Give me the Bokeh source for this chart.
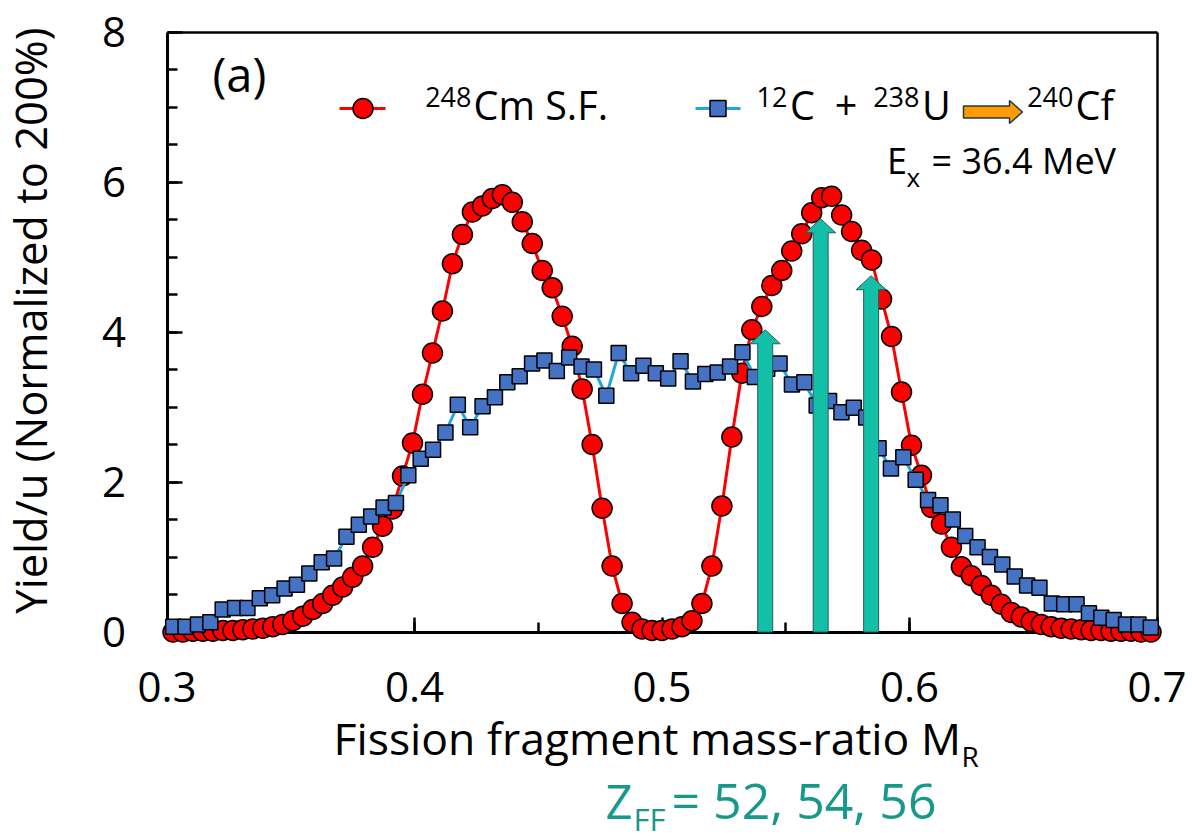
from math import pi

from bokeh.plotting import figure
from bokeh.models import Range1d, FixedTicker, LinearAxis, Label
from bokeh.embed import file_html
from bokeh.resources import INLINE

# ---------------------------------------------------------------- data
# 248Cm spontaneous fission: fragment mass number and yield per u (sum 200 %)
cm_mass_numbers = list(range(75, 174))
cm_yields = [
    0.00, 0.00, 0.01, 0.01, 0.01, 0.02, 0.02, 0.03, 0.04, 0.05,   # 75-84
    0.07, 0.10, 0.15, 0.21, 0.30, 0.38, 0.49, 0.60, 0.73, 0.88,   # 85-94
    1.13, 1.41, 1.64, 2.08, 2.52, 3.17, 3.72, 4.28, 4.91, 5.30,   # 95-104
    5.60, 5.68, 5.78, 5.83, 5.73, 5.47, 5.18, 4.82, 4.59, 4.21,   # 105-114
    3.81, 3.24, 2.50, 1.65, 0.88, 0.38, 0.13, 0.04, 0.02, 0.02,   # 115-124
    0.04, 0.07, 0.15, 0.38, 0.88, 1.68, 2.60, 3.45, 4.03, 4.34,   # 125-134
    4.62, 4.82, 5.08, 5.31, 5.59, 5.79, 5.81, 5.56, 5.34, 5.09,   # 135-144
    4.96, 4.44, 3.94, 3.20, 2.49, 2.09, 1.66, 1.44, 1.13, 0.87,   # 145-154
    0.75, 0.62, 0.49, 0.37, 0.26, 0.20, 0.14, 0.10, 0.07, 0.05,   # 155-164
    0.04, 0.03, 0.02, 0.02, 0.01, 0.01, 0.01, 0.00, 0.00,         # 165-173
]
cm_compound_mass = 248
cm_mass_ratio = [a / cm_compound_mass for a in cm_mass_numbers]

# 12C + 238U -> 240Cf, Ex = 36.4 MeV: mass-ratio bins of width 0.005
cf_mass_ratio = [round(0.3025 + 0.005 * k, 4) for k in range(80)]
cf_yields = [
    0.07, 0.07, 0.10, 0.13, 0.30, 0.32, 0.32, 0.45, 0.49, 0.58,
    0.63, 0.78, 0.93, 0.98, 1.27, 1.43, 1.54, 1.66, 1.72, 2.09,
    2.31, 2.43, 2.66, 3.03, 2.73, 3.01, 3.13, 3.33, 3.41, 3.58,
    3.62, 3.48, 3.66, 3.54, 3.50, 3.15, 3.72, 3.45, 3.55, 3.45,
    3.38, 3.61, 3.34, 3.44, 3.46, 3.54, 3.73, 3.40, 3.51, 3.58,
    3.30, 3.33, 3.02, 3.08, 2.93, 2.99, 2.86, 2.45, 2.18, 2.33,
    2.03, 1.76, 1.69, 1.50, 1.28, 1.13, 1.00, 0.90, 0.74, 0.62,
    0.59, 0.38, 0.37, 0.37, 0.25, 0.19, 0.16, 0.10, 0.10, 0.06,
]

# fragment charges Z_FF = 52, 54, 56 marked by arrows
zff_values = [52, 54, 56]
zff_mass_ratio = [0.5417, 0.5641, 0.5845]
zff_heights = [4.03, 5.51, 4.75]

x_ticks = [0.3, 0.4, 0.5, 0.6, 0.7]
x_minor_ticks = [0.3, 0.35, 0.4, 0.45, 0.5, 0.55, 0.6, 0.65, 0.7]
y_ticks = [0, 2, 4, 6, 8]
y_minor_ticks = [0, 0.5, 1, 1.5, 2, 2.5, 3, 3.5, 4, 4.5, 5, 5.5, 6, 6.5, 7, 7.5, 8]

# ---------------------------------------------------------------- geometry
# The drawing area spans the whole canvas; the axes box sits inside it so
# that markers and titles can extend past the axis lines.
W, H = 1192, 839
AX_L, AX_R, AX_T, AX_B = 166.5, 1156.5, 31.5, 631.5
X0, X1, Y0, Y1 = 0.3, 0.7, 0.0, 8.0
SX = (AX_R - AX_L) / (X1 - X0)
SY = (AX_B - AX_T) / (Y1 - Y0)


def mx(px):
    return X0 + (px - AX_L) / SX


def my(py):
    return Y0 + (AX_B - py) / SY


FONT = "Open Sans"
RED = "#FF0000"
BLUE_LINE = "#1FA8E0"
BLUE_FILL = "#4472C4"
TEAL = "#14BFA8"
TEAL_TEXT = "#17998A"
ORANGE = "#FF9A00"

p = figure(
    width=W, height=H,
    x_range=Range1d(mx(0), mx(W)),
    y_range=Range1d(my(H), my(0)),
    output_backend="svg", toolbar_location=None,
    min_border_left=0, min_border_right=0, min_border_top=0, min_border_bottom=0,
)
p.title.visible = False
p.outline_line_color = None
p.xgrid.visible = False
p.ygrid.visible = False
p.background_fill_color = "white"
p.border_fill_color = "white"


def style_axis(ax, ticks, minor, loc, bounds, standoff):
    ax.ticker = FixedTicker(ticks=ticks, minor_ticks=minor)
    ax.fixed_location = loc
    ax.bounds = bounds
    ax.axis_line_color = "black"
    ax.axis_line_width = 3
    ax.major_tick_line_color = "black"
    ax.minor_tick_line_color = "black"
    ax.major_tick_line_width = 2.5
    ax.minor_tick_line_width = 2.5
    ax.major_tick_in = 15
    ax.major_tick_out = 0
    ax.minor_tick_in = 10
    ax.minor_tick_out = 0
    ax.major_label_text_font = FONT
    ax.major_label_text_font_size = "42px"
    ax.major_label_text_color = "black"
    ax.major_label_standoff = standoff
    ax.level = "underlay"


style_axis(p.xaxis[0], x_ticks, x_minor_ticks, Y0, (X0, X1), 40)
style_axis(p.yaxis[0], y_ticks, y_minor_ticks, X0, (Y0, Y1), 41)

for loc_name, loc, bounds in (("above", Y1, (X0, X1)), ("right", X1, (Y0, Y1))):
    edge = LinearAxis(ticker=FixedTicker(ticks=[]), fixed_location=loc, bounds=bounds,
                      axis_line_color="black", axis_line_width=2.5,
                      major_tick_in=0, major_tick_out=0, minor_tick_in=0, minor_tick_out=0,
                      major_label_text_font_size="0px", major_label_standoff=0)
    edge.level = "underlay"
    p.add_layout(edge, loc_name)

# ---------------------------------------------------------------- series
p.line(cm_mass_ratio, cm_yields, line_color=RED, line_width=3)
p.scatter(cm_mass_ratio, cm_yields, marker="circle", size=20,
          fill_color=RED, line_color="black", line_width=1.5)
p.line(cf_mass_ratio, cf_yields, line_color=BLUE_LINE, line_width=3)
p.scatter(cf_mass_ratio, cf_yields, marker="square", size=15,
          fill_color=BLUE_FILL, line_color="black", line_width=1.5)

# Z_FF arrows
shaft = 7.5 / SX
head = 15 / SX
head_len = 14 / SY
arrow_xs, arrow_ys = [], []
for m, h in zip(zff_mass_ratio, zff_heights):
    arrow_xs.append([m - shaft, m - shaft, m - head, m, m + head, m + shaft, m + shaft])
    arrow_ys.append([0, h - head_len, h - head_len, h, h - head_len, h - head_len, 0])
p.patches(arrow_xs, arrow_ys, fill_color=TEAL, line_color="#2E5A5A", line_width=1)

# ---------------------------------------------------------------- legend
LEG_Y = 108
p.line([mx(339), mx(385)], [my(LEG_Y), my(LEG_Y)], line_color=RED, line_width=3)
p.scatter([mx(362.5)], [my(LEG_Y)], marker="circle", size=20,
          fill_color=RED, line_color="black", line_width=1.5)
p.line([mx(695), mx(740)], [my(LEG_Y), my(LEG_Y)], line_color=BLUE_LINE, line_width=3)
p.scatter([mx(717.5)], [my(LEG_Y)], marker="square", size=16,
          fill_color=BLUE_FILL, line_color="black", line_width=1.5)

# reaction arrow
ay, a0, a1, a2 = 111.5, 963, 1009, 1022
p.patch([mx(a0), mx(a1), mx(a1), mx(a2), mx(a1), mx(a1), mx(a0)],
        [my(ay - 6), my(ay - 6), my(ay - 11.5), my(ay), my(ay + 11.5), my(ay + 6), my(ay + 6)],
        fill_color=ORANGE, line_color="#203A4A", line_width=1.5)


def text(s, px, py, size, color="black", align="left", baseline="alphabetic", angle=0.0):
    # py is the wanted baseline; the renderer places the anchor a little
    # below it for alphabetic text, so lift it by a fraction of the size
    if baseline == "alphabetic":
        py -= 0.46 * size
    p.add_layout(Label(x=mx(px), y=my(py), text=s, text_font=FONT,
                       text_font_size=f"{size}px", text_color=color,
                       text_align=align, text_baseline=baseline, angle=angle))


LEG_BASE = 123
LEG_SIZE = 39.5
SUP = 27
text("(a)", 212, 95, 47)
text("248", 471, 109, SUP, align="right")
text("Cm S.F.", 473, LEG_BASE, LEG_SIZE)
text("12", 787, 109, SUP, align="right")
text("C", 789.5, LEG_BASE, LEG_SIZE)
text("+", 845.5, LEG_BASE, LEG_SIZE, align="center")
text("238", 919, 109, SUP, align="right")
text("U", 921.5, LEG_BASE, LEG_SIZE)
text("240", 1073, 109, SUP, align="right")
text("Cf", 1075, LEG_BASE, LEG_SIZE)
text("E", 886.5, 177, 36)
text("x", 906, 188, 26)
text("= 36.4 MeV", 931, 177, 36)

# axis titles
text("Yield/u (Normalized to 200%)", 30, 320, 43.5, align="center", baseline="middle", angle=pi / 2)
text("Fission fragment mass-ratio M", 333, 757, 44.5)
text("R", 961, 768, 28)

# Z_FF annotation
text("Z", 605, 822, 47, color=TEAL_TEXT)
text("FF", 633, 833, 31, color=TEAL_TEXT)
text("= " + ", ".join(str(z) for z in zff_values), 671, 822, 50, color=TEAL_TEXT)

open("out.html", "w").write(file_html(p, INLINE))
